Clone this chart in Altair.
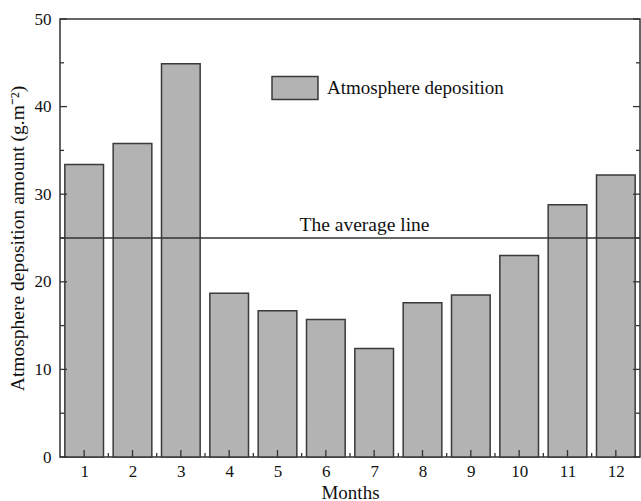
import altair as alt
import pandas as pd

months = list(range(1, 13))
deposition = [33.4, 35.8, 44.9, 18.7, 16.7, 15.7, 12.4, 17.6, 18.5, 23.0, 28.8, 32.2]
average_value = [25.0]
y_major = [0, 10, 20, 30, 40, 50]
y_minor = [5, 15, 25, 35, 45]
x_minor = [m + 0.5 for m in months[:-1]]

FONT = "Liberation Serif"
W, H = 580, 438

df = pd.DataFrame({"month": months, "value": deposition,
                   "series": ["Atmosphere deposition"] * 12})
df["x0"] = df["month"] - 0.4
df["x1"] = df["month"] + 0.4

xs = alt.Scale(domain=[0.5, 12.5], nice=False, zero=False)
ys = alt.Scale(domain=[0, 50], nice=False)

bars = alt.Chart(df).mark_bar(stroke="#3a3a3a", strokeWidth=1.5).encode(
    x=alt.X("x0:Q", scale=xs,
            axis=alt.Axis(values=months, title="Months", ticks=False, domain=False,
                          grid=False, labelPadding=6, titlePadding=4, format="d",
                          titleFontSize=19)),
    x2="x1:Q",
    y=alt.Y("value:Q", scale=ys,
            axis=alt.Axis(values=y_major, title="Atmosphere deposition amount (g.m⁻²)",
                          ticks=False, domain=False, grid=False, labelPadding=9,
                          titlePadding=7, titleFontSize=19.5)),
    y2=alt.datum(0),
    color=alt.Color("series:N", scale=alt.Scale(range=["#b3b3b3"]),
                    legend=alt.Legend(title=None, orient="none", legendX=211, legendY=45,
                                      symbolType="M-1,-0.5H1V0.5H-1Z", symbolSize=2116,
                                      symbolStrokeColor="#3a3a3a", symbolStrokeWidth=1.5,
                                      labelFont=FONT, labelFontSize=19, labelColor="#111",
                                      labelOffset=8, labelLimit=400, padding=0)),
)

avg_df = pd.DataFrame({"y": average_value})
avg_rule = alt.Chart(avg_df).mark_rule(color="#333", strokeWidth=1.3).encode(
    y=alt.Y("y:Q", scale=ys), x=alt.value(0), x2=alt.value(W))
avg_text = alt.Chart(pd.DataFrame({"y": average_value, "x": [6.8],
                                   "t": ["The average line"]})).mark_text(
    font=FONT, fontSize=19.5, color="#111", baseline="bottom", dy=-3).encode(
    x=alt.X("x:Q", scale=xs), y=alt.Y("y:Q", scale=ys), text="t:N")

ymaj = pd.DataFrame({"y": y_major})
ymin = pd.DataFrame({"y": y_minor})
xmaj = pd.DataFrame({"x": months})
xmin = pd.DataFrame({"x": x_minor})

tick_style = dict(color="#333", strokeWidth=1.3)
left_major = alt.Chart(ymaj).mark_rule(**tick_style).encode(
    y=alt.Y("y:Q", scale=ys), x=alt.value(0), x2=alt.value(7))
left_minor = alt.Chart(ymin).mark_rule(**tick_style).encode(
    y=alt.Y("y:Q", scale=ys), x=alt.value(0), x2=alt.value(4))
right_major = alt.Chart(ymaj).mark_rule(**tick_style).encode(
    y=alt.Y("y:Q", scale=ys), x=alt.value(W), x2=alt.value(W - 7))
right_minor = alt.Chart(ymin).mark_rule(**tick_style).encode(
    y=alt.Y("y:Q", scale=ys), x=alt.value(W), x2=alt.value(W - 4))
bottom_major = alt.Chart(xmaj).mark_rule(**tick_style).encode(
    x=alt.X("x:Q", scale=xs), y=alt.value(H), y2=alt.value(H - 7))
bottom_minor = alt.Chart(xmin).mark_rule(**tick_style).encode(
    x=alt.X("x:Q", scale=xs), y=alt.value(H), y2=alt.value(H - 4))

chart = alt.layer(
    bars, avg_rule, avg_text, left_major, left_minor, right_major, right_minor,
    bottom_major, bottom_minor
).properties(
    width=W, height=H,
    background="white",
    autosize=alt.AutoSizeParams(type="none"),
    padding={"left": 60, "top": 19, "right": 1, "bottom": 44},
).configure_view(
    stroke="#333", strokeWidth=1.5
).configure_axis(
    labelFont=FONT, titleFont=FONT, labelFontSize=17, titleFontSize=19,
    labelColor="#111", titleColor="#111", titleFontWeight="normal"
)

chart.save("out.html", embed_options={"renderer": "svg", "actions": False})
